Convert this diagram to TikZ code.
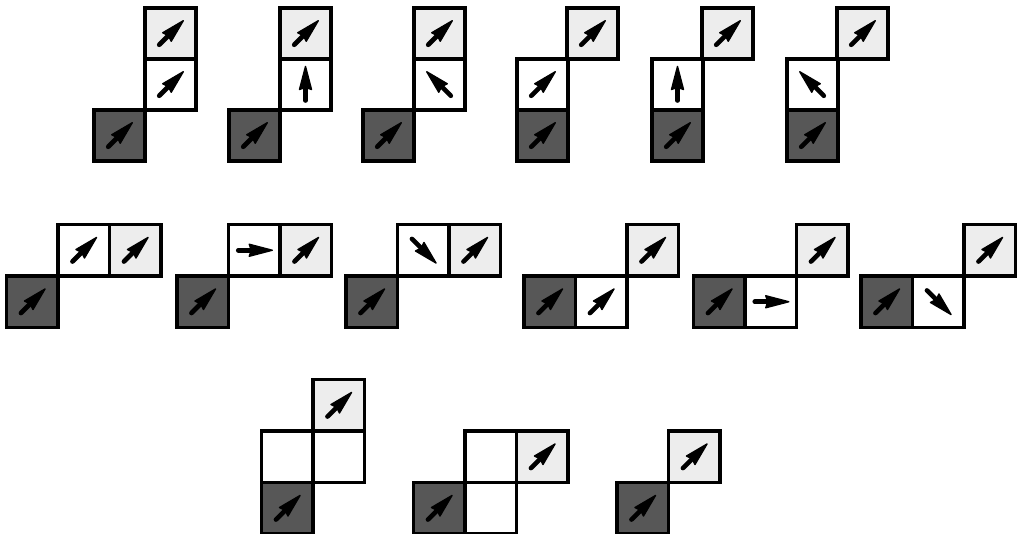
\documentclass[tikz,border=0pt]{standalone}
\begin{document}
\begin{tikzpicture}[x=1pt,y=-1pt,
  cell/.style={draw=black, line width=3.8, minimum size=51.5, inner sep=0, outer sep=0, fill=white},
  lite/.style={cell, fill=black!7},
  dark/.style={cell, fill=black!66},
  pics/arr/.style={code={
    \begin{scope}[rotate=#1]
      \draw[line width=4.6, line cap=round] (-16,0) -- (-2,0);
      \filldraw[line width=1.4, line join=round] (18,0) -- (-5,6) -- (-3,0) -- (-5,-6) -- cycle;
    \end{scope}}}]
\useasboundingbox (0,0) rectangle (1017,534);

% ---------- Row 1 ----------
% G1
\node[lite] (a1) at (170.5,33.5) {};  \pic at (a1) {arr=45};
\node[cell] (a2) at (170.5,84.5) {};  \pic at (a2) {arr=45};
\node[dark] (a3) at (119.5,135.5) {}; \pic at (a3) {arr=45};
% G2
\node[lite] (b1) at (305.5,33.5) {};  \pic at (b1) {arr=45};
\node[cell] (b2) at (305.5,84.5) {};  \pic at (b2) {arr=90};
\node[dark] (b3) at (254.5,135.5) {}; \pic at (b3) {arr=45};
% G3
\node[lite] (c1) at (439.5,33.5) {};  \pic at (c1) {arr=45};
\node[cell] (c2) at (439.5,84.5) {};  \pic at (c2) {arr=135};
\node[dark] (c3) at (388.5,135.5) {}; \pic at (c3) {arr=45};
% G4
\node[lite] (d1) at (592.5,33.5) {};  \pic at (d1) {arr=45};
\node[cell] (d2) at (542.5,84.5) {};  \pic at (d2) {arr=45};
\node[dark] (d3) at (542.5,135.5) {}; \pic at (d3) {arr=45};
% G5
\node[lite] (e1) at (727.5,33.5) {};  \pic at (e1) {arr=45};
\node[cell] (e2) at (677.5,84.5) {};  \pic at (e2) {arr=90};
\node[dark] (e3) at (677.5,135.5) {}; \pic at (e3) {arr=45};
% G6
\node[lite] (f1) at (862.5,33.5) {};  \pic at (f1) {arr=45};
\node[cell] (f2) at (812.5,84.5) {};  \pic at (f2) {arr=135};
\node[dark] (f3) at (812.5,135.5) {}; \pic at (f3) {arr=45};

% ---------- Row 2 ----------
% G7
\node[cell] (g1) at (83.75,250.25) {};  \pic at (g1) {arr=45};
\node[lite] (g2) at (135.25,250.25) {}; \pic at (g2) {arr=45};
\node[dark] (g3) at (32.25,301.75) {};  \pic at (g3) {arr=45};
% G8
\node[cell] (h1) at (254.25,250.25) {}; \pic at (h1) {arr=0};
\node[lite] (h2) at (305.75,250.25) {}; \pic at (h2) {arr=45};
\node[dark] (h3) at (202.75,301.75) {}; \pic at (h3) {arr=45};
% G9
\node[cell] (i1) at (423.25,250.25) {}; \pic at (i1) {arr=-45};
\node[lite] (i2) at (474.75,250.25) {}; \pic at (i2) {arr=45};
\node[dark] (i3) at (371.75,301.75) {}; \pic at (i3) {arr=45};
% G10
\node[lite] (j1) at (652.75,250.25) {}; \pic at (j1) {arr=45};
\node[cell] (j2) at (601.25,301.75) {}; \pic at (j2) {arr=45};
\node[dark] (j3) at (549.75,301.75) {}; \pic at (j3) {arr=45};
% G11
\node[lite] (k1) at (822.25,250.25) {}; \pic at (k1) {arr=45};
\node[cell] (k2) at (770.75,301.75) {}; \pic at (k2) {arr=0};
\node[dark] (k3) at (719.25,301.75) {}; \pic at (k3) {arr=45};
% G12
\node[lite] (l1) at (989.75,250.25) {}; \pic at (l1) {arr=45};
\node[cell] (l2) at (938.25,301.75) {}; \pic at (l2) {arr=-45};
\node[dark] (l3) at (886.75,301.75) {}; \pic at (l3) {arr=45};

% ---------- Row 3 ----------
% G13
\node[lite] (m1) at (338.75,405.25) {}; \pic at (m1) {arr=45};
\node[cell] (m2) at (287.25,456.75) {};
\node[cell] (m3) at (338.75,456.75) {};
\node[dark] (m4) at (287.25,508.25) {}; \pic at (m4) {arr=45};
% G14
\node[cell] (n1) at (490.75,456.75) {};
\node[lite] (n2) at (542.25,456.75) {}; \pic at (n2) {arr=45};
\node[dark] (n3) at (439.25,508.25) {}; \pic at (n3) {arr=45};
\node[cell] (n4) at (490.75,508.25) {};
% G15
\node[lite] (o1) at (694.25,456.75) {}; \pic at (o1) {arr=45};
\node[dark] (o2) at (642.75,508.25) {}; \pic at (o2) {arr=45};
\end{tikzpicture}
\end{document}
